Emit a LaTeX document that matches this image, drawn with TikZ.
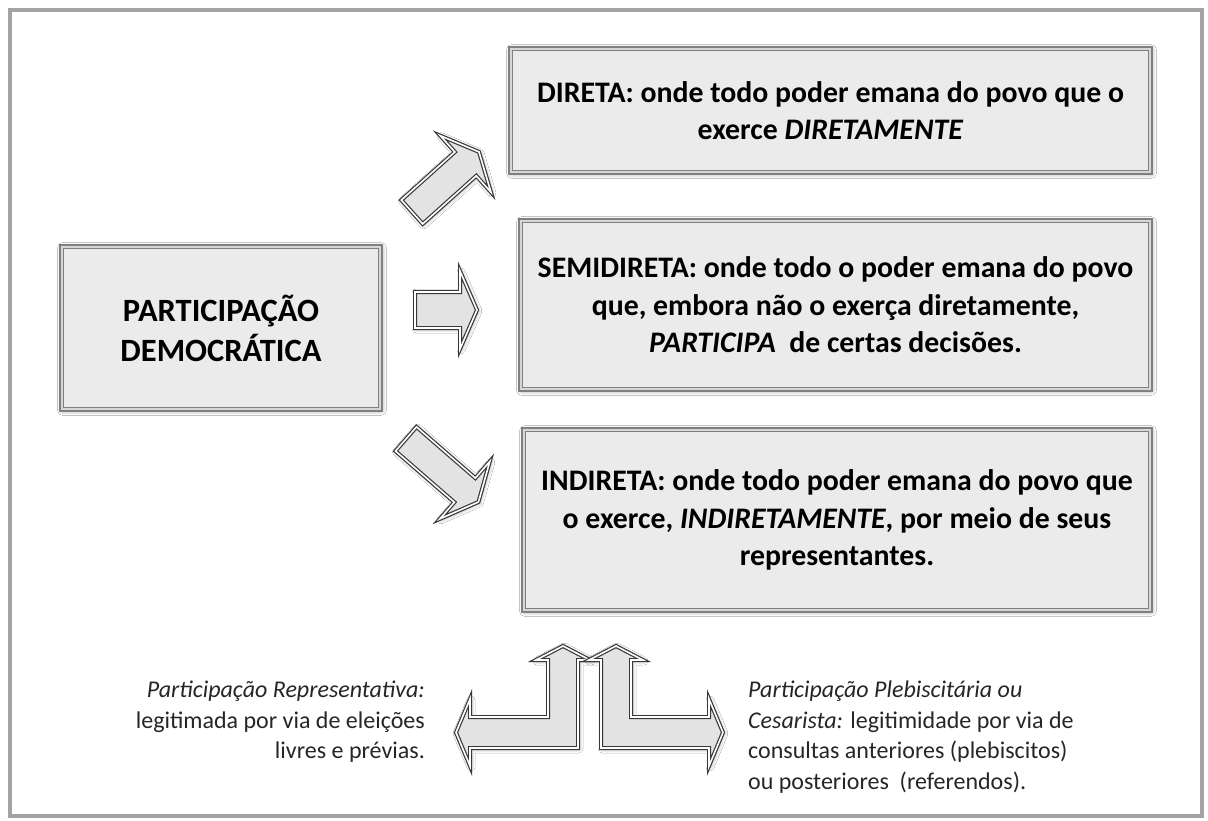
\documentclass[tikz,border=0pt]{standalone}
\usepackage{fontspec}
\setmainfont{Carlito}
\usetikzlibrary{shadows.blur}
\begin{document}
\begin{tikzpicture}[x=1pt,y=-1pt,
  box/.style={draw=black!50, double=black!16, line width=1.5pt, double distance=2pt,
    fill=black!8, inner sep=0pt, outer sep=0pt, align=center,
    font=\fontsize{29.8}{37.5}\selectfont\bfseries,
    blur shadow={shadow xshift=1pt, shadow yshift=-1pt, shadow blur radius=5pt, shadow opacity=45}},
  blockarrow/.style={draw=black!78, double=white, line width=1.2pt, double distance=1.6pt,
    fill=black!11, line join=miter, miter limit=6,
    blur shadow={shadow xshift=1pt, shadow yshift=-1pt, shadow blur radius=4pt, shadow opacity=40}},
  note/.style={inner sep=0pt, text=black!85, font=\fontsize{24}{30.5}\selectfont}
]
\useasboundingbox (0,0) rectangle (1208,821);
\fill[white] (0,0) rectangle (1208,821);
\draw[black!36, line width=3.5pt] (10,10) rectangle (1202,816);

% boxes
\node[box, minimum width=318.8pt, minimum height=162.8pt, font=\fontsize{32.5}{40}\selectfont\bfseries] (part) at (221,328) {PARTICIPAÇÃO\\DEMOCRÁTICA};
\node[box, minimum width=639.8pt, minimum height=123.8pt] (dir) at (830.5,110.5) {DIRETA: onde todo poder emana do povo que o\\exerce \textit{DIRETAMENTE}};
\node[box, minimum width=629.8pt, minimum height=168.8pt] (semi) at (835.5,305) {SEMIDIRETA: onde todo o poder emana do povo\\que, embora não o exerça diretamente,\\\textit{PARTICIPA}\ \ de certas decisões.};
\node[box, minimum width=626.8pt, minimum height=180.8pt] (ind) at (837,520) {INDIRETA: onde todo poder emana do povo que\\o exerce, \textit{INDIRETAMENTE}, por meio de seus\\representantes.};

% block arrows from part to the three boxes
\begin{scope}[shift={(412,212)}, rotate=41.9]
  \path[blockarrow] (0,-16) -- (72,-16) -- (72,-38) -- (90,0) -- (72,38) -- (72,16) -- (0,16) -- cycle;
\end{scope}
\begin{scope}[shift={(415,310)}]
  \path[blockarrow] (0,-18) -- (45,-18) -- (45,-39) -- (62,0) -- (45,39) -- (45,18) -- (0,18) -- cycle;
\end{scope}
\begin{scope}[shift={(406,439)}, rotate=-41]
  \path[blockarrow] (0,-16) -- (78,-16) -- (78,-38) -- (96,0) -- (78,38) -- (78,16) -- (0,16) -- cycle;
\end{scope}

% bottom L-shaped arrows
\path[blockarrow] (563,646) -- (590,660) -- (578,660) -- (578,748) -- (470,748) -- (470,766) -- (456,732.5) -- (470,699) -- (470,717) -- (548,717) -- (548,660) -- (536,660) -- cycle;
\path[blockarrow] (616,646) -- (643,660) -- (631,660) -- (631,717) -- (709,717) -- (709,699) -- (723,732.5) -- (709,766) -- (709,748) -- (601,748) -- (601,660) -- (589,660) -- cycle;

% bottom texts
\node[note, anchor=north east, align=right] (rep) at (425,681) {\textit{Participação Representativa:}\\legitimada por via de eleições\\livres e prévias.};
\node[note, anchor=north west, align=left] (ple) at (748,681) {\textit{Participação Plebiscitária ou}\\\textit{Cesarista:} legitimidade por via de\\consultas anteriores (plebiscitos)\\ou posteriores\ \ (referendos).};
\end{tikzpicture}
\end{document}
